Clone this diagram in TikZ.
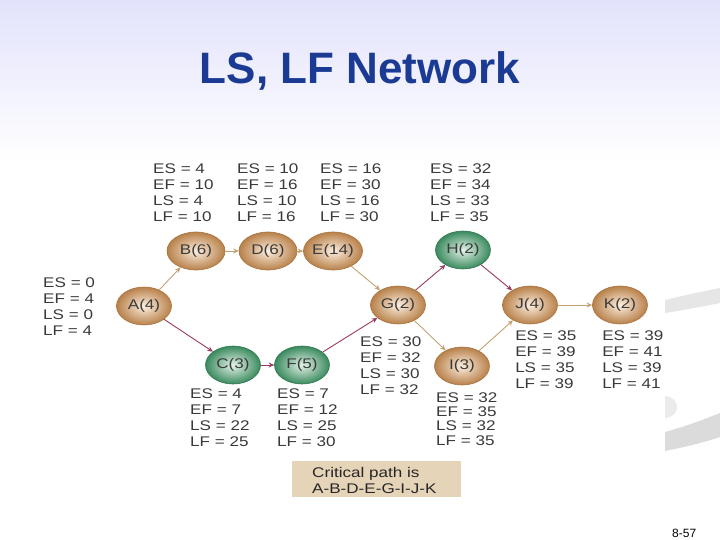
\documentclass[tikz,border=0pt]{standalone}
\usepackage{fontspec}
\usepackage{graphicx}
\setmainfont{Liberation Sans}
\usetikzlibrary{shapes.geometric,arrows.meta}
\definecolor{topc}{HTML}{E2E2FC}
\definecolor{titlec}{HTML}{1B3A93}
\definecolor{tanout}{HTML}{B8814A}
\definecolor{tanin}{HTML}{FCEEDF}
\definecolor{tanedge}{HTML}{A9733F}
\definecolor{grout}{HTML}{3A8A5E}
\definecolor{grin}{HTML}{E4F2E8}
\definecolor{gredge}{HTML}{317650}
\definecolor{tanarr}{HTML}{C4A274}
\definecolor{marc}{HTML}{9A3B5E}
\definecolor{tabc}{HTML}{3A3A3A}
\definecolor{boxc}{HTML}{E6D4B9}
\definecolor{swc}{HTML}{E6E6E6}
\newcommand\sx[1]{\scalebox{1.22}[1]{#1}}
\newcommand\est[8]{%
  \node[tabtext] (#1a) at (#2,#3) {#5};
  \node[tabtext] (#1b) at (#2,{#3+#4}) {#6};
  \node[tabtext] (#1c) at (#2,{#3+2*#4}) {#7};
  \node[tabtext] (#1d) at (#2,{#3+3*#4}) {#8};}
\tikzset{
  tabtext/.style={anchor=base west, inner sep=0pt, font=\fontsize{14}{16}\selectfont, text=tabc, xscale=1.22},
  ndbase/.style={ellipse, minimum width=55pt, minimum height=38pt, inner sep=0pt,
     font=\fontsize{14}{16}\selectfont, text=tabc, line width=0.6pt},
  tannd/.style={ndbase, shading=radial, inner color=tanin, outer color=tanout, draw=tanedge},
  grnd/.style={ndbase, shading=radial, inner color=grin, outer color=grout, draw=gredge},
  tanline/.style={draw=tanarr, line width=0.9pt, -{Stealth[length=5.5pt,width=5pt]}},
  marline/.style={draw=marc, line width=0.9pt, -{Stealth[length=5.5pt,width=5pt]}}
}
\begin{document}
\begin{tikzpicture}[x=1pt,y=-1pt]
\useasboundingbox (0,0) rectangle (720,540);
\fill[white] (0,0) rectangle (720,540);
\fill[top color=topc, bottom color=white] (0,0) rectangle (720,160);
% background swooshes at the right
\fill[swc] (665,300) .. controls (690,294) and (705,291) .. (720,288) -- (720,303) .. controls (705,306) and (690,309) .. (665,313) -- cycle;
\fill[black!14] (665,432) .. controls (690,425) and (705,419) .. (720,413) -- (720,437) .. controls (705,442) and (690,446) .. (665,451) -- cycle;
\fill[black!8] (665,396) .. controls (681,397) and (681,417) .. (665,418) -- cycle;
% picture area
\fill[white] (40,160) rectangle (665,500);
% title
\node[font=\fontsize{44}{50}\selectfont\bfseries, text=titlec, anchor=base, inner sep=0pt] (title) at (360,84) {LS, LF Network};
% nodes
\node[tannd] (A) at (144,306) {\sx{A(4)}};
\node[tannd, minimum width=58pt] (B) at (196,251) {\sx{B(6)}};
\node[tannd, minimum width=58pt] (D) at (268,251) {\sx{D(6)}};
\node[tannd] (E) at (333,251) {\sx{E(14)}};
\node[tannd] (G) at (398,305) {\sx{G(2)}};
\node[grnd] (H) at (463,250) {\sx{H(2)}};
\node[tannd] (J) at (530,305) {\sx{J(4)}};
\node[tannd] (K) at (620,305) {\sx{K(2)}};
\node[grnd] (C) at (233,365) {\sx{C(3)}};
\node[grnd] (F) at (302,365) {\sx{F(5)}};
\node[tannd] (I) at (462,366) {\sx{I(3)}};
% connectors
\draw[tanline] (A) -- (B);
\draw[tanline] (B) -- (D);
\draw[tanline] (D) -- (E);
\draw[tanline] (E) -- (G);
\draw[marline] (G) -- (H);
\draw[marline] (H) -- (J);
\draw[marline] (A) -- (C);
\draw[marline] (C) -- (F);
\draw[marline] (F) -- (G);
\draw[tanline] (G) -- (I);
\draw[tanline] (I) -- (J);
\draw[tanline] (J) -- (K);
% time tables
\est{tB}{153}{174}{16}{ES = 4}{EF = 10}{LS = 4}{LF = 10}
\est{tD}{237}{174}{16}{ES = 10}{EF = 16}{LS = 10}{LF = 16}
\est{tE}{320}{174}{16}{ES = 16}{EF = 30}{LS = 16}{LF = 30}
\est{tH}{430}{174}{16}{ES = 32}{EF = 34}{LS = 33}{LF = 35}
\est{tA}{43}{287}{16}{ES = 0}{EF = 4}{LS = 0}{LF = 4}
\est{tG}{360}{346}{16}{ES = 30}{EF = 32}{LS = 30}{LF = 32}
\est{tJ}{515}{340}{16}{ES = 35}{EF = 39}{LS = 35}{LF = 39}
\est{tK}{602}{340}{16}{ES = 39}{EF = 41}{LS = 39}{LF = 41}
\est{tC}{190}{398}{16.3}{ES = 4}{EF = 7}{LS = 22}{LF = 25}
\est{tF}{277}{398}{16.3}{ES = 7}{EF = 12}{LS = 25}{LF = 30}
\est{tI}{436}{402}{14.4}{ES = 32}{EF = 35}{LS = 32}{LF = 35}
% critical path box
\node[fill=boxc, minimum width=169pt, minimum height=36pt, anchor=north west, inner sep=0pt] (cpbox) at (292,461) {};
\node[tabtext, text=black!85] (cp1) at (312,477) {Critical path is};
\node[tabtext, text=black!85] (cp2) at (312,493) {A-B-D-E-G-I-J-K};
% page number
\node[anchor=base west, inner sep=0pt, font=\fontsize{12}{14}\selectfont] (pg) at (672,537) {8-57};
\end{tikzpicture}
\end{document}
